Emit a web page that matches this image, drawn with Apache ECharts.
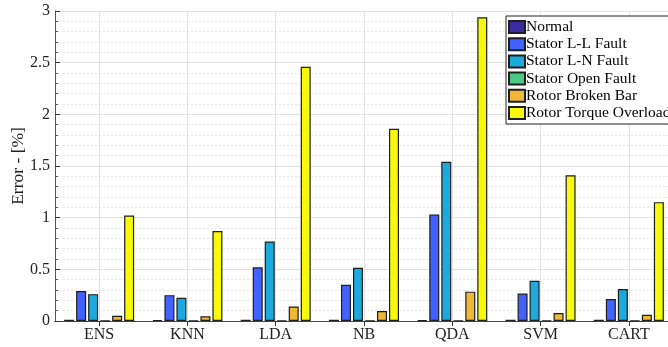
<!DOCTYPE html>
<html>
<head>
<meta charset="utf-8">
<script src="https://cdn.jsdelivr.net/npm/echarts@6/dist/echarts.min.js"></script>
<style>
  html, body { margin: 0; padding: 0; background: #fff; }
  #chart { width: 668px; height: 347px; }
</style>
</head>
<body>
<div id="chart"></div>
<script>
// Classification error per classifier and motor condition
const classifiers = ['ENS', 'KNN', 'LDA', 'NB', 'QDA', 'SVM', 'CART'];
const conditionNames = ['Normal', 'Stator L-L Fault', 'Stator L-N Fault', 'Stator Open Fault', 'Rotor Broken Bar', 'Rotor Torque Overload'];
const normal        = [0.012, 0.010, 0.012, 0.012, 0.008, 0.012, 0.012];
const statorLL      = [0.29, 0.25, 0.52, 0.35, 1.03, 0.265, 0.213];
const statorLN      = [0.26, 0.225, 0.77, 0.515, 1.54, 0.39, 0.31];
const statorOpen    = [0.004, 0.004, 0.004, 0.004, 0.004, 0.004, 0.004];
const rotorBroken   = [0.05, 0.045, 0.14, 0.097, 0.284, 0.077, 0.06];
const rotorOverload = [1.02, 0.87, 2.46, 1.86, 2.94, 1.41, 1.15];
const yTicks = { min: 0, max: 3, step: 0.5 };

const palette = ['#3b2ba0', '#4262ff', '#1ca9de', '#4cc886', '#f0b834', '#f8f80a'];
const seriesValues = [normal, statorLL, statorLN, statorOpen, rotorBroken, rotorOverload];
const serif = '"Liberation Serif", "DejaVu Serif", serif';

// Half-step positions (band edges and centres) for the top frame axis,
// so ticks and vertical grid lines sit on the category centres.
const halfSteps = [''];
classifiers.forEach(c => { halfSteps.push(c, ''); });
const atCentre = idx => idx % 2 === 1;

const chart = echarts.init(document.getElementById('chart'));

chart.setOption({
  animation: false,
  grid: { left: 55, right: -5, top: 11, bottom: 26, outerBoundsMode: 'none', containLabel: false },
  legend: {
    orient: 'vertical',
    left: 506,
    top: 16,
    itemWidth: 16,
    itemHeight: 12,
    itemGap: 1.2,
    padding: [3, 12, 3, 2],
    backgroundColor: '#fff',
    borderColor: '#222',
    borderWidth: 1,
    icon: 'rect',
    textStyle: { fontFamily: serif, fontSize: 15.5, color: '#000', padding: [0, 0, 0, -4] },
    data: conditionNames
  },
  xAxis: [
    {
      type: 'category',
      data: classifiers,
      boundaryGap: true,
      position: 'bottom',
      axisLine: { lineStyle: { color: '#333', width: 1.2 } },
      axisTick: { show: false },
      axisLabel: { fontFamily: serif, fontSize: 16, color: '#222', margin: 6 },
      splitLine: { show: false }
    },
    {
      type: 'category',
      data: halfSteps,
      boundaryGap: false,
      position: 'top',
      axisLine: { show: true, lineStyle: { color: '#444', width: 1.2 } },
      axisTick: { show: true, inside: true, interval: atCentre, length: 5, lineStyle: { color: '#333' } },
      axisLabel: { show: false },
      splitLine: { show: true, interval: atCentre, lineStyle: { color: '#e2e2e2', width: 1 } }
    }
  ],
  yAxis: [
    {
      type: 'value',
      min: yTicks.min,
      max: yTicks.max,
      interval: yTicks.step,
      name: 'Error - [%]',
      nameLocation: 'middle',
      nameGap: 28,
      nameMoveOverlap: false,
      nameTextStyle: { fontFamily: serif, fontSize: 17.5, color: '#222' },
      axisLine: { show: true, lineStyle: { color: '#555', width: 1 } },
      axisTick: { show: true, inside: true, length: 5, lineStyle: { color: '#333' } },
      minorTick: { show: true, splitNumber: 5, length: 3, lineStyle: { color: '#555' } },
      axisLabel: { fontFamily: serif, fontSize: 16, color: '#222', margin: 5 },
      splitLine: { show: true, lineStyle: { color: '#e2e2e2', width: 1 } },
      minorSplitLine: { show: true, lineStyle: { color: '#e6e6e6', type: [2, 2], width: 1 } }
    },
    {
      type: 'value',
      position: 'right',
      min: yTicks.min,
      max: yTicks.max,
      interval: yTicks.step,
      axisLine: { show: true, lineStyle: { color: '#555', width: 1 } },
      axisTick: { show: true, inside: true, length: 5, lineStyle: { color: '#333' } },
      minorTick: { show: true, splitNumber: 5, length: 3, lineStyle: { color: '#555' } },
      axisLabel: { show: false },
      splitLine: { show: false }
    }
  ],
  series: conditionNames.map((name, i) => ({
    name: name,
    type: 'bar',
    xAxisIndex: 0,
    yAxisIndex: 0,
    data: seriesValues[i],
    barWidth: 10,
    barGap: '20%',
    itemStyle: { color: palette[i], borderColor: '#1e1e1e', borderWidth: 1.2 }
  }))
});
</script>
</body>
</html>
